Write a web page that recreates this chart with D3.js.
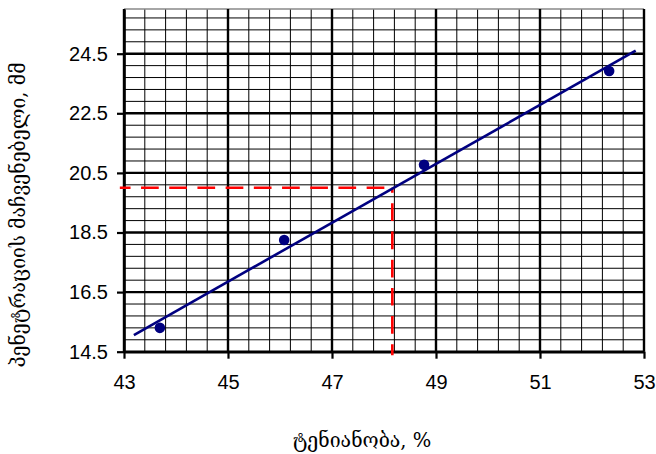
<!DOCTYPE html>
<html>
<head>
<meta charset="utf-8">
<script src="https://cdn.jsdelivr.net/npm/d3@7"></script>
<style>
  html, body { margin: 0; padding: 0; background: #fff; }
  svg { display: block; }
</style>
</head>
<body>
<svg id="chart" width="656" height="454"></svg>
<script>
// Measured moisture (%) vs. penetration (mm)
const moisture = [43.69, 46.08, 48.77, 52.33];
const penetration = [15.30, 18.25, 20.77, 23.92];

// Fitted trend line end points
const fitX = [43.19, 52.84];
const fitY = [15.06, 24.60];

// Reading guide: penetration 20.0 -> moisture 48.16
const guideX = [42.92, 48.16];
const guideY = [20.0, 14.38];

// Axis ticks
const xTicks = [43, 45, 47, 49, 51, 53];
const yTicks = [14.5, 16.5, 18.5, 20.5, 22.5, 24.5];
const xDomain = [43, 53];
const yDomain = [14.5, 26];
const minorStep = 0.4;

const xTitle = "ტენიანობა, %";
const yTitle = "პენეტრაციის მაჩვენებელი, მმ";

const svg = d3.select("#chart");
const plotLeft = 124, plotRight = 644, plotTop = 9, plotBottom = 351.7;

const x = d3.scaleLinear().domain(xDomain).range([plotLeft, plotRight]);
const y = d3.scaleLinear().domain(yDomain).range([plotBottom, plotTop]);

// Minor grid
const xMinor = d3.range(xDomain[0] + minorStep, xDomain[1] - 1e-6, minorStep)
  .filter(v => !xTicks.some(t => Math.abs(t - v) < 1e-6));
const yMinor = d3.range(yDomain[0] + minorStep, yDomain[1] - 1e-6, minorStep)
  .filter(v => !yTicks.some(t => Math.abs(t - v) < 1e-6));

const grid = svg.append("g");
grid.selectAll("line.vmin").data(xMinor).join("line")
  .attr("x1", d => x(d)).attr("x2", d => x(d))
  .attr("y1", y(yDomain[1])).attr("y2", y(yDomain[0]))
  .attr("stroke", "#000").attr("stroke-width", 1);
grid.selectAll("line.hmin").data(yMinor).join("line")
  .attr("y1", d => y(d)).attr("y2", d => y(d))
  .attr("x1", x(xDomain[0])).attr("x2", x(xDomain[1]))
  .attr("stroke", "#000").attr("stroke-width", 1);

// Top border (light)
grid.append("line")
  .attr("x1", x(xDomain[0])).attr("x2", x(xDomain[1]))
  .attr("y1", y(yDomain[1])).attr("y2", y(yDomain[1]))
  .attr("stroke", "#888").attr("stroke-width", 1.5);

// Major grid
grid.selectAll("line.vmaj").data(xTicks).join("line")
  .attr("x1", d => x(d)).attr("x2", d => x(d))
  .attr("y1", y(yDomain[1])).attr("y2", y(yDomain[0]))
  .attr("stroke", "#000").attr("stroke-width", 2.4);
grid.selectAll("line.hmaj").data(yTicks).join("line")
  .attr("y1", d => y(d)).attr("y2", d => y(d))
  .attr("x1", x(xDomain[0])).attr("x2", x(xDomain[1]))
  .attr("stroke", "#000").attr("stroke-width", 2.4);

// Axes
const tickFont = "'Liberation Sans', Arial, sans-serif";
const xAxis = svg.append("g")
  .attr("transform", `translate(0,${plotBottom})`)
  .call(d3.axisBottom(x).tickValues(xTicks).tickFormat(d3.format("d"))
    .tickSize(7).tickSizeOuter(0).tickPadding(16));
const yAxis = svg.append("g")
  .attr("transform", `translate(${plotLeft},0)`)
  .call(d3.axisLeft(y).tickValues(yTicks).tickFormat(d3.format(".1f"))
    .tickSize(7).tickSizeOuter(0).tickPadding(9));

[xAxis, yAxis].forEach(g => {
  g.select(".domain").attr("stroke", "#000").attr("stroke-width", 2.6);
  g.selectAll(".tick line").attr("stroke", "#000").attr("stroke-width", 2.2);
  g.selectAll(".tick text")
    .attr("fill", "#000")
    .style("font-family", tickFont)
    .style("font-size", "20px");
});

// Reading guide (dashed)
const guide = svg.append("g")
  .attr("fill", "none").attr("stroke", "#ff0000").attr("stroke-width", 2.6)
  .attr("stroke-dasharray", "17.7,10.5");
guide.append("line")
  .attr("x1", x(guideX[0])).attr("x2", x(guideX[1]))
  .attr("y1", y(guideY[0])).attr("y2", y(guideY[0]))
  .attr("stroke-dashoffset", 7);
guide.append("line")
  .attr("x1", x(guideX[1])).attr("x2", x(guideX[1]))
  .attr("y1", y(guideY[0])).attr("y2", y(guideY[1]))
  .attr("stroke-dashoffset", 12.7);

// Trend line
svg.append("line")
  .attr("x1", x(fitX[0])).attr("y1", y(fitY[0]))
  .attr("x2", x(fitX[1])).attr("y2", y(fitY[1]))
  .attr("stroke", "#000080").attr("stroke-width", 2.6);

// Points
svg.append("g").selectAll("circle")
  .data(moisture.map((m, i) => [m, penetration[i]]))
  .join("circle")
  .attr("cx", d => x(d[0])).attr("cy", d => y(d[1]))
  .attr("r", 5.3).attr("fill", "#000080");

// Titles
const titleFont = "'DejaVu Serif', 'DejaVu Sans', serif";
svg.append("text")
  .attr("x", 362).attr("y", 447)
  .attr("text-anchor", "middle")
  .style("font-family", titleFont).style("font-size", "19.5px")
  .attr("fill", "#000")
  .text(xTitle);
svg.append("text")
  .attr("transform", "translate(25,215) rotate(-90)")
  .attr("text-anchor", "middle")
  .style("font-family", titleFont).style("font-size", "19.5px")
  .attr("fill", "#000")
  .text(yTitle);
</script>
</body>
</html>
